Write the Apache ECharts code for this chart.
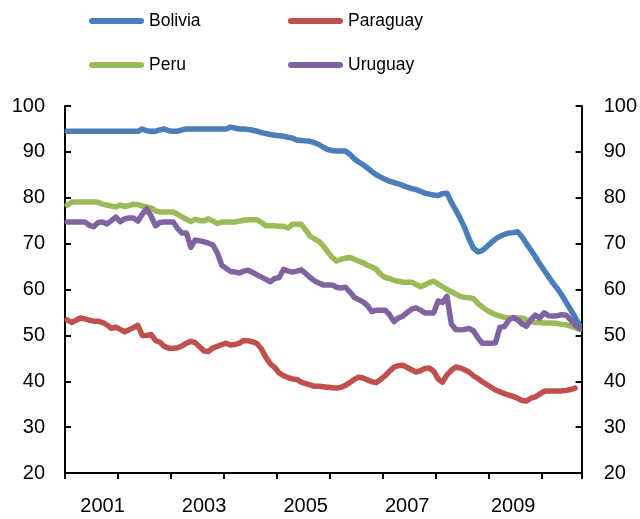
<!DOCTYPE html>
<html>
<head>
<meta charset="utf-8">
<script src="https://cdn.jsdelivr.net/npm/echarts@6/dist/echarts.min.js"></script>
<style>
  html, body { margin: 0; padding: 0; background: #fff; }
  #chart { width: 640px; height: 519px; }
</style>
</head>
<body>
<div id="chart"></div>
<script>
// monthly, Jan 2001 .. Sep 2010
const months = [];
for (let y = 2001; y <= 2010; y++) {
  for (let m = 1; m <= 12; m++) {
    if (y === 2010 && m > 9) break;
    months.push(y + '-' + (m < 10 ? '0' + m : m));
  }
}

// categories that carry a year label
const yearLabelAt = ['2001-09', '2003-08', '2005-07', '2007-06', '2009-06'];

const bolivia = [
  94.5, 94.5, 94.5, 94.5, 94.5, 94.5, 94.5, 94.5, 94.5, 94.5, 94.5, 94.5, 94.5, 94.5, 94.5, 94.5, 94.5,
  95.0, 94.6, 94.5, 94.5, 94.8, 95.0, 94.6, 94.5, 94.5, 94.8, 95.0,
  95.0, 95.0, 95.0, 95.0, 95.0, 95.0, 95.0, 95.0, 95.0,
  95.4, 95.2, 95.0, 95.0, 94.9, 94.7, 94.5, 94.2, 94.0, 93.8, 93.6,
  93.5, 93.4, 93.2, 93.0, 92.6, 92.5, 92.4, 92.3, 92.0, 91.6, 91.0, 90.5, 90.3, 90.2, 90.2, 90.2,
  89.5, 88.5, 87.8, 87.2, 86.5, 85.7, 85.0, 84.5, 84.0, 83.6, 83.3, 83.0, 82.7, 82.3, 82.0, 81.8,
  81.4, 81.0, 80.8, 80.6, 80.5, 80.9, 81.0, 79.0, 77.3, 75.5, 73.5, 71.0, 69.0, 68.2, 68.5, 69.3,
  70.2, 71.0, 71.6, 72.0, 72.3, 72.4, 72.6, 71.5, 70.0, 68.6, 67.2, 65.6, 64.2, 62.8, 61.4, 60.2,
  58.8, 57.2, 55.6, 54.0, 52.3
];

const paraguay = [
  53.4, 52.8, 53.3, 53.8, 53.6, 53.3, 53.1, 53.1, 52.8, 52.3,
  51.5, 51.8, 51.3, 50.8, 51.2, 51.7, 52.2, 50.0, 50.0, 50.2,
  48.9, 48.5, 47.6, 47.2, 47.2, 47.3, 47.7, 48.3, 48.7, 48.4,
  47.5, 46.6, 46.5, 47.3, 47.6, 48.0, 48.3, 47.9, 48.0, 48.3,
  48.9, 48.8, 48.6, 48.2, 47.0, 45.2, 43.8, 43.0, 41.8, 41.2,
  40.8, 40.5, 40.4, 39.8, 39.5, 39.2, 38.9, 38.9, 38.8, 38.7,
  38.6, 38.5, 38.7, 39.1, 39.7, 40.4, 40.9, 40.7, 40.3, 39.9,
  39.7, 40.4, 41.2, 42.2, 43.1, 43.4, 43.5, 43.0, 42.5, 42.0,
  42.3, 42.8, 42.9, 42.2, 40.5, 39.8, 41.4, 42.4, 43.1, 42.9,
  42.5, 42.0, 41.2, 40.6, 39.9, 39.3, 38.7, 38.1, 37.7, 37.3,
  37.0, 36.7, 36.3, 35.8, 35.7, 36.3, 36.6, 37.2, 37.8, 37.9,
  37.9, 37.9, 37.9, 38.0, 38.2, 38.5, null
];

const peru = [
  78.4, 79.0, 79.1, 79.1, 79.1, 79.1, 79.1, 79.0, 78.6, 78.4,
  78.2, 78.0, 78.4, 78.1, 78.3, 78.6, 78.5, 78.2, 78.0, 77.8,
  77.1, 76.9, 76.9, 76.9, 76.9, 76.4, 75.8, 75.3, 74.8, 75.3,
  75.0, 75.0, 75.4, 74.9, 74.4, 74.7, 74.7, 74.7, 74.7, 74.9,
  75.1, 75.2, 75.2, 75.2, 74.6, 73.9, 73.9, 73.9, 73.8, 73.8,
  73.4, 74.2, 74.2, 74.2, 73.0, 71.6, 71.0, 70.5, 69.5, 68.2,
  67.0, 66.2, 66.6, 66.8, 67.0, 66.6, 66.2, 65.8, 65.3, 64.9,
  64.4, 63.3, 62.6, 62.4, 62.0, 61.8, 61.6, 61.6, 61.6, 61.1,
  60.6, 61.0, 61.5, 61.8, 61.2, 60.6, 60.0, 59.5, 59.0, 58.5,
  58.3, 58.2, 58.0, 57.0, 56.2, 55.5, 55.0, 54.5, 54.2, 53.9,
  53.8, 53.8, 53.8, 53.8, 53.4, 53.1, 52.8, 52.8, 52.7, 52.7,
  52.7, 52.6, 52.4, 52.3, 52.0, 51.7, 51.3
];

const uruguay = [
  74.7, 74.7, 74.7, 74.7, 74.7, 74.0, 73.7, 74.6, 74.7, 74.3,
  75.0, 75.8, 74.8, 75.4, 75.6, 75.6, 74.9, 76.4, 77.6, 76.0,
  73.9, 74.6, 74.7, 74.7, 74.7, 73.3, 72.3, 72.3, 69.2, 70.8,
  70.6, 70.4, 70.1, 69.7, 68.0, 65.3, 64.6, 63.9, 63.8, 63.6,
  64.0, 64.2, 63.7, 63.2, 62.7, 62.2, 61.7, 62.4, 62.6, 64.4,
  64.0, 63.8, 64.0, 64.3, 63.5, 62.6, 61.9, 61.4, 61.0, 61.0,
  61.0, 60.5, 60.3, 60.5, 59.5, 58.3, 57.8, 57.3, 56.5, 55.2,
  55.5, 55.5, 55.5, 54.5, 53.0, 53.8, 54.2, 55.0, 55.7, 56.0,
  55.5, 54.9, 54.9, 54.9, 57.5, 57.2, 58.5, 52.5, 51.3, 51.2,
  51.3, 51.5, 51.0, 49.5, 48.3, 48.3, 48.3, 48.4, 51.8, 51.9,
  53.3, 53.9, 53.4, 52.5, 52.0, 53.4, 54.4, 53.8, 54.9, 54.3,
  54.2, 54.3, 54.5, 54.4, 53.4, 52.3, 51.5
];

const yTicks = ['20', '30', '40', '50', '60', '70', '80', '90', '100'];

const font = "'Liberation Sans', Arial, sans-serif";
const pillIcon = 'path://M3,0L52,0A3,3,0,0,1,52,6L3,6A3,3,0,0,1,3,0Z';

var myChart = echarts.init(document.getElementById('chart'), null, { renderer: 'canvas' });

function lineSeries(name, data, color) {
  return {
    name: name,
    type: 'line',
    data: data,
    symbol: 'none',
    smooth: false,
    connectNulls: false,
    color: color,
    lineStyle: { width: 5.5, color: color, cap: 'round', join: 'round' }
  };
}

function legendCol(names, left) {
  return {
    data: names,
    orient: 'vertical',
    left: left,
    top: 6,
    itemWidth: 55,
    itemHeight: 6,
    itemGap: 24,
    icon: pillIcon,
    textStyle: { fontFamily: font, fontSize: 17.5, color: '#000', lineHeight: 20 }
  };
}

function yAxis(position, margin) {
  return {
    type: 'value',
    position: position,
    min: 20,
    max: 100,
    interval: 10,
    splitLine: { show: false },
    axisLine: { show: true, lineStyle: { color: '#000', width: 2 } },
    axisTick: { show: true, inside: true, length: 6, lineStyle: { color: '#000', width: 2 } },
    axisLabel: {
      margin: margin,
      fontFamily: font,
      fontSize: 20,
      color: '#000',
      formatter: function (v) { return yTicks[(v - 20) / 10]; }
    }
  };
}

var option = {
  animation: false,
  backgroundColor: '#fff',
  legend: [
    legendCol(['Bolivia', 'Peru'], 84),
    legendCol(['Paraguay', 'Uruguay'], 283)
  ],
  grid: { left: 65, right: 57, top: 106, bottom: 46, containLabel: false },
  xAxis: {
    type: 'category',
    data: months,
    boundaryGap: true,
    axisLine: { show: true, onZero: false, lineStyle: { color: '#000', width: 2 } },
    axisTick: { show: true, interval: 11, length: 6, lineStyle: { color: '#000', width: 2 } },
    axisLabel: {
      interval: function (idx, val) { return yearLabelAt.indexOf(val) >= 0; },
      formatter: function (val) { return val.slice(0, 4); },
      margin: 23,
      fontFamily: font,
      fontSize: 20,
      color: '#000',
      hideOverlap: false
    },
    splitLine: { show: false }
  },
  yAxis: [yAxis('left', 20), yAxis('right', 22)],
  series: [
    lineSeries('Bolivia', bolivia, '#4a7ebb'),
    lineSeries('Paraguay', paraguay, '#c0504d'),
    lineSeries('Peru', peru, '#9bbb59'),
    lineSeries('Uruguay', uruguay, '#8064a2')
  ]
};

myChart.setOption(option);
</script>
</body>
</html>
